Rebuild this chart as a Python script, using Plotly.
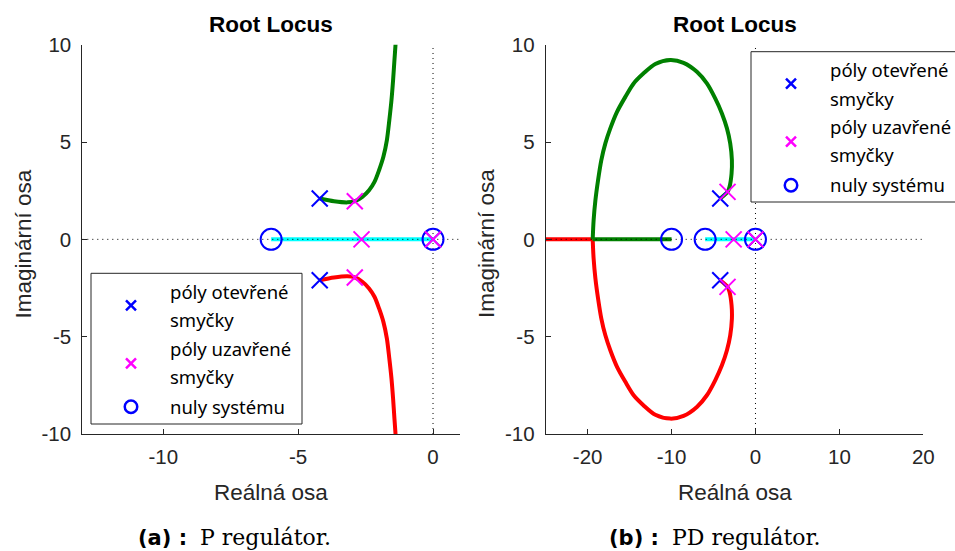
import plotly.graph_objects as go

# ---------------- data : (a) P regulator ----------------
a_x_range = [-13, 1]
a_x_ticks = [-10, -5, 0]
a_x_ticklabels = ["-10", "-5", "0"]
y_range = [-10, 10]
y_ticks = [-10, -5, 0, 5, 10]
y_ticklabels = ["-10", "-5", "0", "5", "10"]

a_ol_re = [-4.2, -4.2, 0.0]          # open-loop poles
a_ol_im = [2.1, -2.1, 0.0]
a_zero_re = [-6.0, 0.0]              # zeros
a_zero_im = [0.0, 0.0]
a_cl_re = [-2.9, -2.9, -2.65, 0.0]   # closed-loop poles
a_cl_im = [1.96, -1.96, 0.0, 0.0]

a_up_re = [-4.2, -3.67, -3.17, -2.89, -2.62, -2.37, -2.17, -2.0, -1.84, -1.71,
           -1.62, -1.54, -1.48, -1.43, -1.39, -1.37]
a_up_im = [2.1, 1.96, 1.90, 1.96, 2.18, 2.52, 2.95, 3.55, 4.24, 5.10,
           6.12, 7.15, 8.18, 9.21, 10.0, 10.5]
a_lo_re = [-4.2, -3.67, -3.17, -2.89, -2.62, -2.37, -2.17, -2.0, -1.84, -1.71,
           -1.62, -1.54, -1.48, -1.43, -1.39, -1.37]
a_lo_im = [-2.1, -1.96, -1.90, -1.96, -2.18, -2.52, -2.95, -3.55, -4.24, -5.10,
           -6.12, -7.15, -8.18, -9.21, -10.0, -10.5]
a_real_re = [-6.0, 0.0]
a_real_im = [0.0, 0.0]

# ---------------- data : (b) PD regulator ----------------
b_x_range = [-25, 20]
b_x_ticks = [-20, -10, 0, 10, 20]
b_x_ticklabels = ["-20", "-10", "0", "10", "20"]

b_ol_re = [-4.2, -4.2, 0.0]
b_ol_im = [2.1, -2.1, 0.0]
b_zero_re = [-10.0, -6.0, 0.0]
b_zero_im = [0.0, 0.0, 0.0]
b_cl_re = [-3.33, -3.33, -2.6, 0.0]
b_cl_im = [2.44, -2.44, 0.0, 0.0]

b_up_re = [-4.2, -3.33, -3.10, -2.85, -2.81, -3.01, -3.40, -4.0, -4.80, -5.79,
           -6.98, -8.57, -10.15, -11.94, -13.33, -14.52, -15.51, -16.5, -17.3,
           -17.89, -18.37, -18.76, -19.08, -19.29, -19.4]
b_up_im = [2.1, 2.44, 2.69, 3.38, 4.07, 4.93, 5.70, 6.47, 7.24, 8.01,
           8.61, 9.07, 9.21, 9.01, 8.53, 8.01, 7.32, 6.55, 5.70,
           4.93, 4.07, 3.04, 2.0, 0.98, 0.0]
b_lo_re = [-4.2, -3.33, -3.10, -2.85, -2.81, -3.01, -3.40, -4.0, -4.80, -5.79,
           -6.98, -8.57, -10.15, -11.94, -13.33, -14.52, -15.51, -16.5, -17.3,
           -17.89, -18.37, -18.76, -19.08, -19.29, -19.4]
b_lo_im = [-2.1, -2.44, -2.69, -3.38, -4.07, -4.93, -5.70, -6.47, -7.24, -8.01,
           -8.61, -9.07, -9.21, -9.01, -8.53, -8.01, -7.32, -6.55, -5.70,
           -4.93, -4.07, -3.04, -2.0, -0.98, 0.0]
b_green_real_re = [-19.4, -10.0]
b_red_real_re = [-19.4, -25.0]
b_real_im = [0.0, 0.0]
b_cyan_re = [-6.0, 0.0]
b_cyan_im = [0.0, 0.0]

legend_labels = ["póly otevřené", "smyčky", "póly uzavřené", "smyčky", "nuly systému"]

# ---------------- styles ----------------
W, H = 955, 551
GREEN, RED, CYAN = "#008000", "#ff0000", "#00ffff"
BLUE, MAG = "#0000ff", "#ff00ff"
AX = "#262626"
LW = 4


def px(x):
    return x / W


def py(y):
    return 1 - y / H


fig = go.Figure()


def add_panel(xa, ya, curves, xr, ol, zeros, cl):
    for cx, cy, col, shape in curves:
        fig.add_trace(go.Scatter(x=cx, y=cy, mode="lines", xaxis=xa, yaxis=ya,
                                 line=dict(color=col, width=LW, shape=shape,
                                           smoothing=0.8),
                                 showlegend=False, hoverinfo="skip"))
    # dotted reference axes
    fig.add_trace(go.Scatter(x=xr, y=[0, 0], mode="lines", xaxis=xa, yaxis=ya,
                             line=dict(color="black", width=1, dash="1px,4px"),
                             showlegend=False, hoverinfo="skip"))
    fig.add_trace(go.Scatter(x=[0, 0], y=y_range, mode="lines", xaxis=xa, yaxis=ya,
                             line=dict(color="black", width=1, dash="1px,4px"),
                             showlegend=False, hoverinfo="skip"))
    fig.add_trace(go.Scatter(x=zeros[0], y=zeros[1], mode="markers", xaxis=xa, yaxis=ya,
                             marker=dict(symbol="circle-open", size=21, color=BLUE,
                                         line=dict(width=2, color=BLUE)),
                             showlegend=False))
    fig.add_trace(go.Scatter(x=ol[0], y=ol[1], mode="markers", xaxis=xa, yaxis=ya,
                             marker=dict(symbol="x-thin", size=16, color=BLUE,
                                         line=dict(width=2, color=BLUE)),
                             showlegend=False))
    fig.add_trace(go.Scatter(x=cl[0], y=cl[1], mode="markers", xaxis=xa, yaxis=ya,
                             marker=dict(symbol="x-thin", size=16, color=MAG,
                                         line=dict(width=2, color=MAG)),
                             showlegend=False))


add_panel("x", "y",
          [(a_real_re, a_real_im, CYAN, "linear"),
           (a_up_re, a_up_im, GREEN, "spline"),
           (a_lo_re, a_lo_im, RED, "spline")],
          a_x_range, (a_ol_re, a_ol_im), (a_zero_re, a_zero_im), (a_cl_re, a_cl_im))

add_panel("x2", "y2",
          [(b_cyan_re, b_cyan_im, CYAN, "linear"),
           (b_red_real_re, b_real_im, RED, "linear"),
           (b_lo_re, b_lo_im, RED, "spline"),
           (b_green_real_re, b_real_im, GREEN, "linear"),
           (b_up_re, b_up_im, GREEN, "spline")],
          b_x_range, (b_ol_re, b_ol_im), (b_zero_re, b_zero_im), (b_cl_re, b_cl_im))

# ---------------- hand-drawn legends (pixel overlay) ----------------
legends = [dict(x0=91, y0=273.3, x1=302, y1=424),
           dict(x0=751, y0=51.7, x1=962, y1=202)]
for lg in legends:
    fig.add_trace(go.Scatter(
        x=[lg["x0"], lg["x1"], lg["x1"], lg["x0"], lg["x0"]],
        y=[lg["y0"], lg["y0"], lg["y1"], lg["y1"], lg["y0"]],
        mode="lines", fill="toself", fillcolor="white",
        line=dict(color=AX, width=1), xaxis="x3", yaxis="y3",
        showlegend=False, hoverinfo="skip"))
    mx = lg["x0"] + 40
    fig.add_trace(go.Scatter(x=[mx], y=[lg["y0"] + 32], mode="markers",
                             marker=dict(symbol="x-thin", size=10,
                                         line=dict(width=2.5, color=BLUE)),
                             xaxis="x3", yaxis="y3", showlegend=False, hoverinfo="skip"))
    fig.add_trace(go.Scatter(x=[mx], y=[lg["y0"] + 90], mode="markers",
                             marker=dict(symbol="x-thin", size=10,
                                         line=dict(width=2.5, color=MAG)),
                             xaxis="x3", yaxis="y3", showlegend=False, hoverinfo="skip"))
    fig.add_trace(go.Scatter(x=[mx], y=[lg["y0"] + 133.5], mode="markers",
                             marker=dict(symbol="circle-open", size=12.5, color=BLUE,
                                         line=dict(width=2.5, color=BLUE)),
                             xaxis="x3", yaxis="y3", showlegend=False, hoverinfo="skip"))

annotations = []
LEG_FONT = dict(family="Noto Sans", size=18.5, color="black")
line_offsets = [20, 48.4, 76.7, 105, 135]
for lg in legends:
    for lab, off in zip(legend_labels, line_offsets):
        annotations.append(dict(text=lab, xref="paper", yref="paper",
                                x=px(lg["x0"] + 78), y=py(lg["y0"] + off - 2),
                                xanchor="left", yanchor="middle", showarrow=False,
                                font=LEG_FONT, borderpad=0))

TF = dict(family="Liberation Sans", size=22.5, color="black")
LF = dict(family="Liberation Sans", size=22.5, color=AX)
for cx, ylab_x in [(271.2, 22.5), (734.5, 486)]:
    annotations.append(dict(text="<b>Root Locus</b>", xref="paper", yref="paper",
                            x=px(cx), y=py(24.5), xanchor="center", yanchor="middle",
                            showarrow=False, font=TF))
    annotations.append(dict(text="Reálná osa", xref="paper", yref="paper",
                            x=px(cx), y=py(492), xanchor="center", yanchor="middle",
                            showarrow=False, font=LF))
    annotations.append(dict(text="Imaginární osa", xref="paper", yref="paper",
                            x=px(ylab_x), y=py(244), xanchor="center", yanchor="middle",
                            textangle=-90, showarrow=False, font=LF))

CAP_B = dict(family="DejaVu Sans", size=21, color="black")
CAP_S = dict(family="DejaVu Serif", size=22, color="black")
for bold_txt, txt, xr, xl in [("(a) :", "P regulátor.", 188, 199),
                              ("(b) :", "PD regulátor.", 660, 671)]:
    annotations.append(dict(text="<b>" + bold_txt + "</b>", xref="paper", yref="paper",
                            x=px(xr), y=py(537.5), xanchor="right", yanchor="middle",
                            showarrow=False, font=CAP_B, borderpad=0))
    annotations.append(dict(text=txt, xref="paper", yref="paper",
                            x=px(xl), y=py(537.5), xanchor="left", yanchor="middle",
                            showarrow=False, font=CAP_S, borderpad=0))


def xaxis_cfg(dom, rng, ticks, labels, anchor):
    return dict(domain=dom, range=rng, tickvals=ticks, ticktext=labels, anchor=anchor,
                showline=True, linecolor=AX, linewidth=1, mirror=False,
                ticks="inside", ticklen=5, tickcolor=AX, tickwidth=1,
                showgrid=False, zeroline=False, ticklabelstandoff=4, automargin=False,
                tickfont=dict(family="Liberation Sans", size=20.5, color=AX))


def yaxis_cfg(dom, anchor):
    return dict(domain=dom, range=y_range, tickvals=y_ticks, ticktext=y_ticklabels,
                anchor=anchor,
                showline=True, linecolor=AX, linewidth=1, mirror=False,
                ticks="inside", ticklen=5, tickcolor=AX, tickwidth=1,
                showgrid=False, zeroline=False, ticklabelstandoff=6, automargin=False,
                tickfont=dict(family="Liberation Sans", size=20.5, color=AX))


ydom = [py(434), py(44.7)]
fig.update_layout(
    template="none",
    width=W, height=H,
    margin=dict(l=0, r=0, t=0, b=0, pad=0, autoexpand=False),
    paper_bgcolor="white", plot_bgcolor="rgba(0,0,0,0)",
    showlegend=False,
    xaxis=xaxis_cfg([px(82.3), px(460)], a_x_range, a_x_ticks, a_x_ticklabels, "y"),
    yaxis=yaxis_cfg(ydom, "x"),
    xaxis2=xaxis_cfg([px(545.7), px(923.3)], b_x_range, b_x_ticks, b_x_ticklabels, "y2"),
    yaxis2=yaxis_cfg(ydom, "x2"),
    xaxis3=dict(domain=[0, 1], range=[0, W], visible=False, anchor="y3",
                fixedrange=True, automargin=False),
    yaxis3=dict(domain=[0, 1], range=[H, 0], visible=False, anchor="x3",
                fixedrange=True, automargin=False),
    annotations=annotations,
)

fig.write_html("out.html")
